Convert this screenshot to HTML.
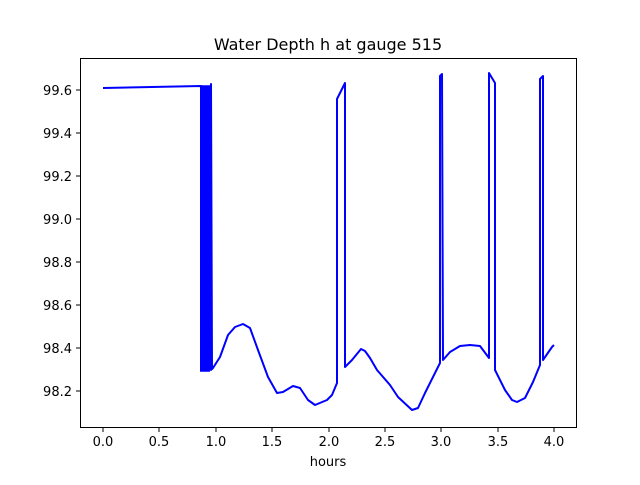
<!DOCTYPE html>
<html><head><style>body{margin:0;background:#fff}</style></head><body>
<svg width="640" height="480" xmlns="http://www.w3.org/2000/svg" font-family="DejaVu Sans, sans-serif">
<rect width="640" height="480" fill="#fff"/>
<text x="328" y="50" font-size="16" text-anchor="middle">Water Depth h at gauge 515</text>
<g stroke="#00f" stroke-width="2" fill="none" stroke-linejoin="round">
<path d="M103,88 L201,86 L201,371 L202,86 L203,371 L204,86 L205,371 L206,86 L207,371 L208,86 L209,371 L210,86 L211,370 L211,84 L212,369 L213,368 L220,357 L228,335 L235,327 L243,324 L250,328 L258,350 L268,377 L277,393 L283,392 L293,386 L300,388 L308,400 L315,405 L327,400 L332,395 L337,383 L337,99 L345,83 L345,367 L352,360 L361,349 L365,351 L370,358 L377,370 L390,385 L398,397 L412,410 L418,408 L425,393 L440,363 L440,76 L442,74 L443,360 L450,352 L460,346 L470,345 L480,346 L489,358 L489,73 L495,83 L495,370 L505,390 L512,400 L517,402 L525,398 L533,382 L540,365 L540,79 L543,76 L543,360 L552,347 L554,345"/>
</g>
<rect x="80.5" y="58.5" width="496" height="369" fill="none" stroke="#000" stroke-width="1"/>
<g stroke="#000" stroke-width="1">
<path d="M103,428v4M159,428v4M216,428v4M272,428v4M329,428v4M385,428v4M441,428v4M498,428v4M554,428v4"/>
<path d="M80,90h-4M80,133h-4M80,176h-4M80,219h-4M80,262h-4M80,305h-4M80,348h-4M80,391h-4"/>
</g>
<g font-size="13" text-anchor="middle">
<text x="103" y="446">0.0</text><text x="159" y="446">0.5</text><text x="216" y="446">1.0</text><text x="272" y="446">1.5</text><text x="329" y="446">2.0</text><text x="385" y="446">2.5</text><text x="441" y="446">3.0</text><text x="498" y="446">3.5</text><text x="554" y="446">4.0</text>
<text x="328" y="466">hours</text>
</g>
<g font-size="13" text-anchor="end">
<text x="72" y="95">99.6</text><text x="72" y="138">99.4</text><text x="72" y="181">99.2</text><text x="72" y="224">99.0</text><text x="72" y="267">98.8</text><text x="72" y="310">98.6</text><text x="72" y="353">98.4</text><text x="72" y="396">98.2</text>
</g>
</svg>
</body></html>
